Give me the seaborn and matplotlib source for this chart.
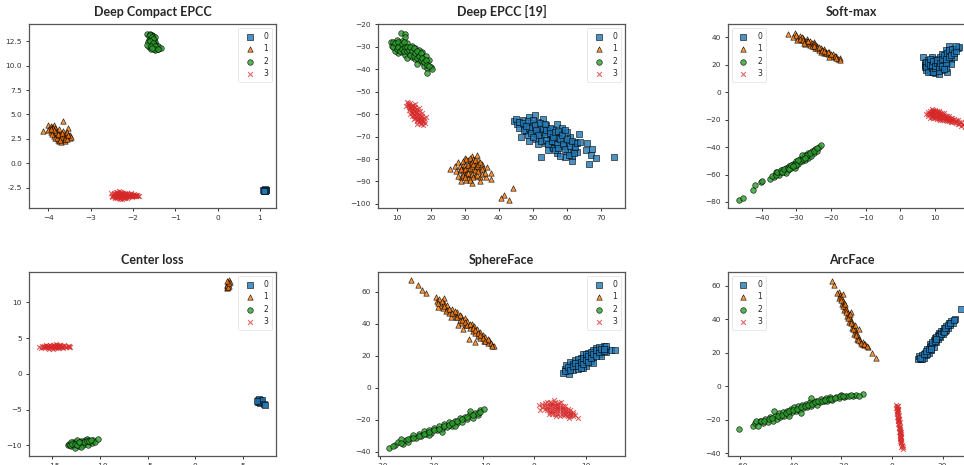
import matplotlib
matplotlib.use('Agg')
import pandas as pd
import seaborn as sns
import matplotlib.pyplot as plt

# ---- data (t-SNE style embeddings, 4 classes per panel) ----
titles = ['Deep Compact EPCC', 'Deep EPCC [19]', 'Soft-max', 'Center loss', 'SphereFace', 'ArcFace']
class_labels = ['0', '1', '2', '3']

# Deep Compact EPCC
ecc_0 = [(1.10, -2.72), (1.12, -2.78), (1.14, -2.70), (1.09, -2.80), (1.13, -2.84), (1.11, -2.66),
         (1.15, -2.76), (1.08, -2.74), (1.12, -2.88), (1.10, -2.82)]
ecc_1 = [(-4.12, 3.30), (-3.66, 4.35), (-3.53, 3.62), (-4.00, 3.95), (-3.95, 3.85), (-3.92, 3.70),
         (-3.98, 3.55), (-3.88, 3.90), (-3.85, 3.60), (-3.90, 3.40), (-3.95, 3.20), (-3.86, 3.10),
         (-3.80, 3.35), (-3.82, 2.95), (-3.88, 2.75), (-3.84, 2.55), (-3.78, 2.40), (-3.75, 2.30),
         (-3.70, 2.50), (-3.72, 2.75), (-3.68, 2.95), (-3.74, 3.15), (-3.65, 3.30), (-3.62, 3.05),
         (-3.60, 2.80), (-3.58, 2.60), (-3.64, 2.40), (-3.56, 2.95), (-3.52, 2.75), (-3.50, 2.55),
         (-3.48, 2.85), (-3.55, 3.20), (-3.70, 2.20), (-3.60, 2.25), (-3.80, 2.60), (-3.92, 3.05),
         (-4.02, 3.45), (-3.76, 3.50), (-3.66, 2.65), (-3.46, 2.70),
         (-3.90, 3.60), (-3.82, 3.25), (-3.76, 2.85), (-3.70, 2.65), (-3.62, 2.50), (-3.56, 2.45),
         (-3.53, 2.85), (-3.78, 3.05), (-3.86, 3.45), (-3.68, 3.10), (-3.72, 2.35), (-3.94, 3.50)]
ecc_2 = [(-1.68, 13.20), (-1.60, 13.25), (-1.55, 13.15), (-1.63, 13.05), (-1.52, 13.00), (-1.58, 12.85),
         (-1.50, 12.75), (-1.62, 12.65), (-1.55, 12.55), (-1.48, 12.45), (-1.57, 12.35), (-1.60, 12.20),
         (-1.50, 12.25), (-1.45, 12.10), (-1.55, 12.05), (-1.62, 11.95), (-1.52, 11.85), (-1.44, 11.90),
         (-1.38, 11.85), (-1.58, 11.70), (-1.48, 11.65), (-1.40, 11.75), (-1.65, 12.40), (-1.47, 12.90),
         (-1.53, 12.15), (-1.42, 12.00), (-1.35, 11.80), (-1.66, 12.10),
         (-1.60, 13.10), (-1.56, 12.95), (-1.54, 12.70), (-1.60, 12.50), (-1.52, 12.35), (-1.58, 12.00),
         (-1.48, 12.00), (-1.50, 11.75), (-1.42, 11.70), (-1.56, 11.80)]
ecc_3 = [(-2.52, -3.05), (-2.48, -3.20), (-2.45, -3.35), (-2.44, -3.10), (-2.40, -2.95), (-2.40, -3.25),
         (-2.38, -3.45), (-2.36, -3.05), (-2.35, -3.30), (-2.33, -3.15), (-2.32, -3.55), (-2.30, -2.90),
         (-2.30, -3.40), (-2.28, -3.20), (-2.27, -3.05), (-2.25, -3.35), (-2.24, -3.50), (-2.22, -3.15),
         (-2.20, -3.00), (-2.20, -3.30), (-2.18, -3.45), (-2.16, -3.20), (-2.14, -3.10), (-2.12, -3.35),
         (-2.10, -3.25), (-2.08, -3.40), (-2.06, -3.15), (-2.04, -3.30), (-2.02, -3.45), (-2.00, -3.20),
         (-1.98, -3.35), (-1.96, -3.25), (-1.94, -3.40), (-1.92, -3.30), (-1.90, -3.20), (-1.88, -3.38),
         (-2.42, -3.60), (-2.26, -3.62), (-2.34, -2.85), (-2.50, -3.30), (-2.15, -3.55), (-2.05, -3.05),
         (-2.37, -3.18), (-2.29, -3.28), (-2.21, -3.22),
         (-2.46, -3.00), (-2.43, -3.42), (-2.41, -3.15), (-2.39, -3.35), (-2.37, -2.98), (-2.35, -3.50),
         (-2.33, -3.25), (-2.31, -3.10), (-2.29, -3.45), (-2.28, -2.95), (-2.26, -3.18), (-2.25, -3.05),
         (-2.23, -3.40), (-2.21, -3.55), (-2.19, -3.12), (-2.17, -3.38), (-2.15, -3.02), (-2.13, -3.25),
         (-2.11, -3.48), (-2.09, -3.12), (-2.07, -3.30), (-2.03, -3.20), (-2.01, -3.38), (-1.97, -3.15),
         (-1.93, -3.22), (-1.86, -3.30), (-2.49, -3.45), (-2.31, -3.62), (-2.19, -3.60), (-2.39, -3.52)]

# Deep EPCC [19]
epcc_0 = [(44.5, -63.0), (45.5, -64.5), (46.0, -66.0), (47.0, -62.5), (47.5, -65.0), (48.0, -67.5),
          (48.5, -69.5), (49.0, -61.5), (49.5, -64.0), (50.0, -66.5), (50.5, -60.5), (50.5, -68.5),
          (51.0, -71.0), (51.5, -63.5), (52.0, -66.0), (52.5, -70.0), (52.5, -79.0), (53.0, -68.0),
          (53.5, -73.0), (54.0, -65.0), (54.5, -67.5), (55.0, -71.0), (55.5, -74.5), (55.5, -69.5),
          (56.0, -66.5), (56.5, -72.5), (57.0, -77.5), (57.5, -70.5), (58.0, -68.0), (58.5, -74.0),
          (59.0, -71.5), (59.5, -79.0), (60.0, -76.5), (60.5, -73.0), (61.0, -70.0), (61.5, -81.0),
          (62.0, -75.5), (62.5, -72.5), (63.5, -69.0), (63.0, -77.0), (66.0, -73.0), (65.5, -76.0),
          (66.5, -82.0), (67.0, -78.0), (67.5, -75.5), (68.5, -79.5), (74.0, -79.0), (54.5, -76.0),
          (57.0, -64.5), (49.0, -72.0), (46.5, -70.0), (60.0, -68.0), (53.0, -62.0), (58.5, -66.0),
          (61.5, -78.5), (56.0, -75.0), (51.5, -73.5),
          (45.0, -62.0), (46.0, -63.5), (47.0, -64.0), (47.5, -67.0), (48.5, -63.0), (49.0, -66.0),
          (49.5, -68.5), (50.0, -62.5), (50.5, -65.0), (51.0, -67.0), (51.5, -69.5), (52.0, -64.0),
          (52.5, -72.0), (53.0, -66.5), (53.5, -69.0), (54.0, -71.5), (54.0, -67.0), (54.5, -73.5),
          (55.0, -66.0), (55.0, -68.5), (55.5, -72.0), (56.0, -70.0), (56.5, -68.0), (56.5, -76.0),
          (57.0, -73.5), (57.5, -67.5), (57.5, -75.0), (58.0, -71.0), (58.0, -78.5), (58.5, -69.5),
          (59.0, -73.5), (59.5, -67.0), (59.5, -75.5), (60.0, -71.0), (60.5, -78.0), (61.0, -74.0),
          (61.5, -72.0), (62.0, -77.5), (62.5, -74.5), (63.0, -73.0), (64.0, -72.5), (48.0, -65.5),
          (50.0, -70.0), (53.5, -64.5)]
epcc_1 = [(25.7, -84.5), (27.0, -83.0), (28.0, -81.5), (28.5, -85.0), (29.0, -88.0), (29.5, -82.5),
          (30.0, -79.5), (30.0, -86.0), (30.5, -84.0), (31.0, -80.5), (31.0, -88.5), (31.5, -82.0),
          (31.5, -86.5), (32.0, -78.5), (32.5, -84.5), (32.5, -80.0), (33.0, -87.5), (33.0, -82.5),
          (33.5, -85.0), (34.0, -80.5), (34.0, -83.5), (34.5, -88.0), (34.5, -90.0), (35.0, -82.0),
          (35.0, -86.5), (35.5, -84.0), (36.2, -88.2), (37.6, -86.0), (37.8, -88.8), (29.0, -90.0),
          (28.0, -87.5), (30.5, -89.5), (32.0, -90.5), (33.5, -78.0), (31.0, -84.0), (29.5, -85.5),
          (36.5, -83.5), (27.5, -85.5), (44.1, -93.0), (41.4, -96.0), (40.7, -97.5), (43.1, -98.2),
          (28.5, -83.0), (29.0, -84.5), (29.5, -81.0), (29.5, -87.0), (30.0, -82.5), (30.0, -84.5),
          (30.5, -80.0), (30.5, -86.5), (31.0, -82.5), (31.0, -86.0), (31.5, -79.5), (31.5, -84.0),
          (32.0, -81.5), (32.0, -83.0), (32.0, -86.5), (32.5, -82.0), (32.5, -88.0), (33.0, -80.5),
          (33.0, -85.0), (33.5, -83.0), (33.5, -87.0), (34.0, -82.0), (34.0, -85.5), (34.5, -81.5),
          (35.0, -84.5), (36.0, -86.0), (30.0, -88.0), (31.5, -89.5)]
epcc_2 = [(11.2, -24.0), (12.5, -24.5), (12.4, -25.5), (8.2, -27.8), (8.5, -29.5), (9.0, -28.0),
          (9.5, -30.5), (10.0, -27.0), (10.0, -29.0), (10.5, -31.5), (11.0, -28.5), (11.0, -30.5),
          (11.5, -27.5), (11.5, -32.5), (12.0, -29.5), (12.5, -31.0), (12.5, -33.5), (13.0, -28.5),
          (13.5, -30.5), (13.5, -33.0), (14.0, -31.5), (14.5, -29.5), (14.5, -34.5), (15.0, -32.0),
          (15.5, -30.5), (15.5, -35.5), (16.0, -33.5), (16.5, -31.5), (16.5, -36.0), (17.0, -34.5),
          (17.5, -32.5), (17.5, -37.0), (18.0, -35.5), (18.0, -38.5), (18.5, -34.0), (19.0, -37.0),
          (19.0, -39.5), (19.5, -36.0), (20.0, -39.0), (20.5, -40.0), (18.8, -41.8), (10.5, -33.0),
          (13.0, -35.0), (9.5, -32.0), (16.0, -37.5),
          (9.0, -30.0), (9.5, -28.5), (10.0, -31.0), (10.5, -28.0), (10.5, -30.0), (11.0, -32.0),
          (11.5, -29.0), (11.5, -31.0), (12.0, -28.0), (12.0, -32.0), (12.5, -30.0), (13.0, -32.0),
          (13.0, -30.0), (13.5, -31.5), (14.0, -30.0), (14.0, -33.5), (14.5, -32.0), (15.0, -30.5),
          (15.0, -34.0), (15.5, -33.0), (16.0, -32.0), (16.0, -35.0), (16.5, -34.0), (17.0, -33.0),
          (17.0, -36.0), (17.5, -35.0), (18.0, -37.0), (18.5, -36.0), (19.0, -38.0), (19.5, -38.5)]
epcc_3 = [(13.0, -54.5), (13.5, -56.0), (14.0, -55.0), (13.8, -57.5), (14.5, -56.5), (14.2, -58.5),
          (15.0, -57.0), (14.8, -59.5), (15.5, -58.0), (15.2, -60.5), (16.0, -59.0), (15.8, -61.0),
          (16.5, -60.0), (16.2, -62.0), (17.0, -61.0), (16.8, -63.0), (17.5, -62.0), (17.2, -64.0),
          (18.0, -63.0), (15.5, -55.5), (16.5, -57.5), (17.5, -59.5), (14.0, -60.0), (18.5, -61.5),
          (13.5, -58.0), (15.0, -62.0), (16.0, -64.5), (17.8, -65.0), (12.8, -56.5), (16.8, -58.5),
          (14.6, -57.8), (15.6, -59.6), (16.4, -61.2), (17.4, -60.8), (15.4, -56.8), (14.4, -61.0),
          (17.0, -62.8), (15.9, -63.2), (18.3, -64.0), (13.4, -55.2),
          (13.2, -55.8), (13.7, -56.8), (14.3, -56.2), (14.0, -57.2), (14.8, -58.2), (14.5, -59.4),
          (15.2, -58.8), (15.0, -60.8), (15.8, -59.0), (15.5, -61.6), (16.2, -60.4), (16.0, -62.6),
          (16.6, -61.6), (16.5, -63.6), (17.2, -62.4), (17.6, -63.4), (18.0, -61.8), (17.0, -64.6),
          (14.8, -56.0), (15.9, -57.8)]

# Soft-max
soft_0 = [(6.5, 26.0), (7.0, 21.0), (7.0, 18.5), (7.5, 16.5), (8.0, 23.5), (8.0, 20.0), (8.5, 15.5),
          (8.5, 18.0), (9.0, 22.0), (9.0, 14.5), (9.5, 19.5), (9.5, 16.5), (10.0, 24.0), (10.0, 21.0),
          (10.0, 14.0), (10.5, 18.0), (10.5, 15.5), (11.0, 22.5), (11.0, 19.5), (11.5, 25.5),
          (11.5, 17.0), (12.0, 21.0), (12.0, 28.0), (12.5, 23.5), (12.5, 19.0), (13.0, 30.5),
          (13.0, 26.0), (13.5, 22.0), (13.5, 14.5), (14.0, 27.5), (14.0, 33.5), (14.5, 24.5),
          (15.0, 29.5), (15.5, 26.0), (15.5, 31.5), (16.5, 32.0), (17.0, 33.0), (12.0, 16.0),
          (9.0, 25.5), (11.0, 13.5), (14.5, 20.5), (13.0, 17.5),
          (7.0, 19.5), (7.5, 22.0), (7.5, 18.0), (8.0, 15.0), (8.0, 21.5), (8.5, 19.5), (8.5, 24.0),
          (9.0, 17.5), (9.0, 20.0), (9.5, 15.0), (9.5, 22.5), (10.0, 17.5), (10.0, 19.0), (10.5, 21.0),
          (10.5, 23.5), (11.0, 15.5), (11.0, 18.0), (11.5, 21.5), (12.0, 19.0), (12.0, 24.0),
          (12.5, 17.0), (12.5, 27.0), (13.0, 21.5), (13.0, 24.5), (13.5, 28.5), (14.0, 25.5),
          (14.0, 30.5), (14.5, 27.0), (15.0, 31.5), (15.5, 28.5), (16.0, 30.0), (16.0, 34.0)]
soft_1 = [(-32.4, 42.5), (-30.5, 43.5), (-31.0, 40.5), (-29.5, 39.5), (-29.0, 41.0), (-28.5, 38.0),
          (-28.0, 39.5), (-27.5, 37.0), (-27.0, 38.5), (-26.5, 36.0), (-26.0, 34.5), (-26.0, 37.5),
          (-25.5, 35.5), (-25.0, 33.5), (-24.5, 35.0), (-24.5, 32.0), (-24.0, 33.5), (-23.5, 31.0),
          (-23.0, 32.5), (-22.5, 30.0), (-22.0, 31.5), (-22.0, 28.5), (-21.5, 29.5), (-21.0, 27.5),
          (-20.5, 29.0), (-20.0, 26.5), (-19.5, 27.5), (-19.0, 25.5), (-18.5, 26.5), (-18.0, 24.0),
          (-17.5, 25.0), (-17.3, 23.5), (-27.5, 35.0), (-23.0, 29.5), (-29.8, 38.0), (-25.0, 36.5),
          (-20.5, 26.0), (-28.5, 40.5),
          (-30.0, 41.5), (-29.0, 39.0), (-28.0, 38.0), (-27.0, 37.0), (-26.5, 37.5), (-25.5, 34.0),
          (-25.0, 35.0), (-24.0, 32.5), (-23.5, 33.0), (-22.5, 31.0), (-21.5, 28.5), (-21.0, 29.5),
          (-20.0, 27.5), (-19.0, 26.5), (-18.5, 25.0), (-27.8, 36.2), (-24.8, 34.0), (-22.0, 30.0)]
soft_2 = [(-46.5, -78.5), (-45.3, -76.8), (-42.5, -71.0), (-42.0, -67.5), (-40.3, -65.5), (-39.8, -64.8),
          (-37.5, -63.0), (-36.5, -61.5), (-35.8, -59.5), (-35.0, -60.5), (-34.5, -58.0), (-34.0, -56.5),
          (-33.5, -58.5), (-33.0, -55.0), (-32.5, -56.5), (-32.0, -53.5), (-31.5, -55.5), (-31.0, -52.0),
          (-30.5, -53.5), (-30.0, -50.5), (-29.5, -52.0), (-29.0, -49.0), (-28.5, -50.5), (-28.0, -47.5),
          (-27.5, -49.5), (-27.5, -45.5), (-27.0, -47.0), (-26.5, -44.0), (-26.5, -48.0), (-26.0, -45.5),
          (-25.5, -42.5), (-25.0, -44.5), (-24.5, -41.5), (-24.0, -43.0), (-23.5, -40.0), (-22.8, -38.5),
          (-33.0, -59.0), (-30.5, -55.0), (-28.5, -46.0), (-36.0, -58.0), (-25.8, -46.8),
          (-37.0, -61.0), (-36.0, -60.0), (-35.5, -58.5), (-34.5, -57.0), (-34.0, -58.5), (-33.5, -56.0),
          (-32.5, -55.0), (-32.0, -56.0), (-31.5, -53.0), (-30.5, -52.0), (-30.0, -53.0), (-29.0, -50.5),
          (-28.0, -49.0), (-27.0, -46.0), (-26.0, -44.0), (-25.0, -43.0), (-24.0, -41.0), (-29.5, -49.5),
          (-31.0, -54.0), (-27.5, -48.0)]
soft_3 = [(7.5, -16.0), (8.0, -14.5), (8.0, -17.5), (8.5, -13.5), (8.5, -16.0), (8.5, -18.5), (9.0, -12.5),
          (9.0, -15.0), (9.0, -17.0), (9.5, -14.0), (9.5, -16.5), (9.5, -19.0), (10.0, -13.0), (10.0, -15.5),
          (10.0, -18.0), (10.5, -14.5), (10.5, -17.0), (10.5, -19.5), (11.0, -13.5), (11.0, -16.0),
          (11.0, -18.5), (11.5, -15.0), (11.5, -17.5), (11.5, -20.0), (12.0, -16.5), (12.0, -19.0),
          (12.5, -15.5), (12.5, -18.0), (12.5, -20.5), (13.0, -17.0), (13.0, -19.5), (13.5, -18.5),
          (13.5, -21.0), (14.0, -17.5), (14.0, -20.0), (14.5, -19.0), (14.5, -21.5), (15.0, -20.5),
          (15.5, -19.5), (15.5, -22.0), (16.0, -21.0), (16.5, -20.5), (16.5, -23.0), (17.0, -22.0),
          (17.5, -21.5), (17.5, -24.5), (18.0, -23.0), (18.5, -25.5), (18.5, -22.5), (19.0, -24.0),
          (19.5, -26.5), (20.0, -25.0), (20.5, -27.0),
          (8.0, -16.0), (8.5, -15.0), (9.0, -14.0), (9.0, -16.0), (9.0, -18.0), (9.5, -13.0), (9.5, -15.5),
          (9.5, -17.5), (10.0, -14.0), (10.0, -16.5), (10.0, -19.0), (10.5, -13.5), (10.5, -15.5),
          (10.5, -18.0), (11.0, -14.5), (11.0, -17.0), (11.0, -19.5), (11.5, -16.0), (11.5, -18.5),
          (12.0, -15.0), (12.0, -17.5), (12.0, -20.0), (12.5, -16.5), (12.5, -19.0), (13.0, -18.0),
          (13.0, -20.5), (13.5, -17.5), (13.5, -19.5), (14.0, -19.0), (14.0, -21.0), (14.5, -20.0),
          (15.0, -19.0), (15.0, -21.5), (16.0, -20.0), (16.0, -22.5), (17.0, -23.0), (18.0, -24.0),
          (19.0, -25.0), (19.5, -24.5), (20.0, -26.5)]

# Center loss
center_0 = [(6.6, -3.7), (6.7, -3.9), (6.8, -3.6), (6.9, -3.8), (6.6, -4.0), (6.8, -4.1), (6.7, -3.5),
            (6.9, -4.0), (7.0, -3.7), (7.2, -4.2), (7.3, -4.4), (6.5, -3.8)]
center_1 = [(3.3, 12.0), (3.4, 12.4), (3.5, 12.8), (3.6, 13.1), (3.4, 12.2), (3.5, 12.6), (3.7, 12.9),
            (3.6, 12.3), (3.3, 12.5), (3.5, 12.1), (3.6, 12.7), (3.4, 13.0)]
center_2 = [(-13.4, -10.0), (-13.2, -9.8), (-13.0, -10.1), (-12.8, -9.6), (-12.7, -10.0), (-12.6, -10.4),
            (-12.5, -9.5), (-12.3, -9.8), (-12.2, -10.1), (-12.0, -9.4), (-11.9, -9.7), (-11.8, -10.0),
            (-11.6, -9.3), (-11.5, -9.6), (-11.3, -9.9), (-11.2, -9.2), (-11.0, -9.5), (-10.8, -9.7),
            (-10.7, -9.3), (-10.5, -9.5), (-10.2, -9.1), (-12.4, -9.2), (-11.4, -9.1), (-13.0, -9.5),
            (-12.0, -10.2),
            (-13.1, -9.9), (-12.9, -9.8), (-12.6, -9.8), (-12.4, -9.9), (-12.1, -9.6), (-11.7, -9.6),
            (-11.4, -9.4), (-11.1, -9.4), (-10.9, -9.2), (-12.2, -9.5)]
center_3 = [(-16.4, 3.75), (-16.0, 3.8), (-15.8, 3.7), (-15.6, 3.95), (-15.5, 3.6), (-15.4, 3.85),
            (-15.2, 4.05), (-15.1, 3.7), (-15.0, 3.9), (-14.9, 3.55), (-14.8, 4.1), (-14.7, 3.8),
            (-14.6, 3.65), (-14.5, 4.0), (-14.4, 3.75), (-14.3, 3.9), (-14.2, 4.05), (-14.1, 3.7),
            (-14.0, 3.85), (-13.8, 4.0), (-13.6, 3.8), (-13.4, 3.95), (-13.2, 3.85), (-13.1, 3.75),
            (-15.9, 3.9), (-15.3, 3.5), (-14.6, 4.15), (-13.9, 3.65), (-16.2, 3.65), (-15.7, 4.05),
            (-16.1, 3.85), (-15.85, 3.78), (-15.65, 3.72), (-15.45, 3.92), (-15.25, 3.78), (-15.05, 3.62),
            (-14.95, 3.98), (-14.85, 3.72), (-14.75, 3.92), (-14.55, 3.85), (-14.45, 3.62), (-14.35, 4.08),
            (-14.25, 3.8), (-14.15, 3.95), (-13.95, 3.78), (-13.75, 3.9), (-13.55, 3.72), (-13.3, 3.82),
            (-15.55, 3.85), (-14.65, 3.72)]

# SphereFace
sphere_0 = [(5.5, 9.5), (6.0, 12.0), (6.2, 14.5), (6.5, 10.5), (7.0, 13.0), (7.0, 16.5), (7.5, 11.5),
            (7.5, 15.0), (8.0, 17.5), (8.0, 13.5), (8.5, 12.0), (8.5, 16.0), (9.0, 19.0), (9.0, 14.5),
            (9.5, 17.5), (9.5, 21.0), (10.0, 15.5), (10.0, 19.5), (10.5, 18.0), (10.5, 22.0), (11.0, 20.5),
            (11.0, 17.0), (11.5, 23.5), (11.5, 19.5), (12.0, 22.0), (12.0, 25.0), (12.5, 21.0), (12.5, 24.0),
            (13.0, 23.0), (13.5, 26.0), (13.0, 20.0), (14.0, 24.5), (14.0, 22.5), (15.0, 24.0), (15.7, 24.0),
            (8.5, 18.0), (10.0, 13.5), (11.5, 15.5), (6.8, 8.8), (9.5, 12.5),
            (6.0, 10.5), (6.5, 13.0), (7.0, 11.0), (7.5, 13.5), (8.0, 15.5), (8.5, 14.0), (9.0, 16.5),
            (9.0, 12.5), (9.5, 15.0), (9.5, 19.0), (10.0, 17.5), (10.0, 21.5), (10.5, 16.0), (10.5, 20.0),
            (11.0, 18.5), (11.0, 22.5), (11.5, 21.0), (12.0, 20.0), (12.0, 23.5), (12.5, 22.5), (12.5, 25.5),
            (13.0, 24.5), (13.5, 23.0), (14.0, 26.0), (13.5, 24.5)]
sphere_1 = [(-23.9, 67.2), (-22.7, 64.0), (-21.9, 61.3), (-21.0, 59.2), (-19.2, 56.5), (-19.0, 54.0),
            (-18.5, 55.5), (-18.2, 52.0), (-17.8, 50.0), (-17.5, 53.0), (-17.0, 51.5), (-16.9, 48.5),
            (-16.5, 47.0), (-16.0, 49.5), (-15.5, 46.0), (-15.2, 44.0), (-15.0, 47.5), (-14.5, 42.5),
            (-14.2, 45.0), (-14.0, 40.5), (-13.5, 43.5), (-13.2, 39.0), (-13.0, 41.5), (-12.5, 37.5),
            (-12.2, 40.0), (-12.0, 35.5), (-11.8, 38.5), (-11.5, 34.0), (-11.2, 36.5), (-11.0, 32.5),
            (-10.5, 35.0), (-10.5, 31.0), (-10.0, 33.0), (-9.8, 29.5), (-9.5, 31.5), (-9.0, 28.0),
            (-8.8, 30.0), (-8.3, 27.0), (-7.8, 26.5), (-12.7, 30.5), (-11.6, 28.5), (-17.5, 56.0),
            (-16.2, 44.5), (-14.8, 39.0), (-13.8, 36.5), (-18.8, 50.5),
            (-18.8, 53.0), (-18.0, 54.0), (-17.5, 51.0), (-17.2, 48.0), (-16.5, 49.5), (-16.0, 46.5),
            (-15.5, 48.0), (-15.0, 44.0), (-14.5, 45.5), (-14.0, 42.5), (-13.5, 41.0), (-13.0, 39.0),
            (-12.5, 40.0), (-12.0, 37.5), (-11.5, 36.0), (-11.0, 34.5), (-10.5, 33.0), (-10.0, 31.0),
            (-9.5, 29.5), (-9.0, 30.5), (-8.5, 28.0), (-8.2, 26.0)]
sphere_2 = [(-28.2, -37.8), (-27.0, -35.5), (-26.5, -34.0), (-25.5, -35.0), (-25.0, -32.5), (-24.0, -31.5),
            (-23.5, -29.5), (-23.0, -31.0), (-22.5, -28.5), (-22.0, -30.0), (-21.5, -27.0), (-21.0, -29.0),
            (-20.5, -26.5), (-20.0, -28.0), (-19.5, -25.0), (-19.0, -26.5), (-18.5, -24.0), (-18.0, -25.5),
            (-17.5, -22.5), (-17.0, -24.5), (-16.5, -21.5), (-16.0, -23.5), (-15.5, -20.5), (-15.0, -22.0),
            (-14.5, -19.0), (-14.0, -21.0), (-13.5, -18.0), (-13.0, -19.5), (-12.5, -16.5), (-12.0, -18.5),
            (-11.5, -15.5), (-11.0, -17.0), (-10.5, -13.5), (-9.7, -13.0), (-18.0, -27.5), (-15.5, -23.5),
            (-20.5, -29.5), (-12.5, -14.5), (-24.5, -33.5), (-26.0, -32.0),
            (-27.5, -36.0), (-26.0, -34.5), (-24.5, -32.0), (-23.5, -31.0), (-22.5, -30.0), (-21.5, -28.5),
            (-20.5, -27.5), (-19.5, -26.5), (-18.5, -25.5), (-17.5, -24.0), (-16.5, -23.0), (-16.0, -22.0),
            (-15.0, -20.5), (-14.0, -19.5), (-13.0, -18.0), (-12.0, -17.0), (-11.0, -15.5), (-10.5, -15.0)]
sphere_3 = [(1.0, -10.5), (1.5, -12.0), (2.0, -9.5), (2.0, -13.0), (2.5, -11.0), (2.5, -14.0), (3.0, -8.5),
            (3.0, -12.0), (3.0, -15.0), (3.5, -10.0), (3.5, -13.5), (3.5, -16.5), (4.0, -9.0), (4.0, -11.5),
            (4.0, -14.5), (4.5, -12.5), (4.5, -16.0), (4.5, -10.0), (5.0, -11.0), (5.0, -14.0), (5.0, -17.5),
            (5.5, -12.5), (5.5, -15.5), (6.0, -11.5), (6.0, -14.5), (6.0, -17.0), (6.5, -13.0), (6.5, -16.0),
            (7.0, -14.0), (7.0, -17.5), (7.5, -15.0), (7.5, -16.5), (8.6, -19.0), (3.8, -7.8), (5.2, -8.8),
            (2.8, -16.0), (6.8, -18.5), (4.2, -17.8), (1.2, -14.0),
            (1.5, -10.0), (2.0, -11.5), (2.5, -9.0), (2.5, -12.5), (3.0, -10.5), (3.0, -13.5), (3.5, -11.5),
            (3.5, -15.0), (4.0, -10.5), (4.0, -13.0), (4.0, -16.0), (4.5, -11.5), (4.5, -14.0), (5.0, -12.5),
            (5.0, -15.5), (5.5, -11.0), (5.5, -14.0), (5.5, -17.0), (6.0, -13.0), (6.0, -16.0), (6.5, -14.5),
            (6.5, -17.5), (7.0, -15.5), (7.0, -16.5), (7.5, -17.5), (8.0, -17.0), (3.2, -9.2), (4.8, -9.5)]

# ArcFace
arc_0 = [(10.2, 16.5), (10.5, 18.0), (11.5, 16.0), (12.0, 18.5), (12.5, 17.0), (13.0, 20.0), (13.5, 18.5),
         (14.0, 22.0), (14.5, 20.0), (15.0, 23.5), (15.0, 25.5), (15.5, 21.5), (16.0, 25.0), (16.5, 27.5),
         (16.5, 23.5), (17.0, 29.0), (17.5, 26.5), (18.0, 30.5), (18.0, 28.0), (18.5, 32.0), (19.0, 29.5),
         (19.5, 33.0), (20.0, 31.0), (20.5, 34.5), (21.0, 33.0), (21.5, 36.0), (22.0, 35.0), (22.5, 37.5),
         (23.0, 36.5), (23.5, 39.0), (24.0, 38.0), (25.0, 40.0), (27.3, 46.4), (14.0, 19.5), (19.0, 31.5),
         (21.5, 33.5), (12.0, 16.5),
         (11.0, 17.0), (12.5, 19.0), (13.5, 21.0), (14.5, 22.5), (15.5, 24.0), (16.0, 26.5), (17.0, 27.0),
         (17.5, 29.5), (18.5, 30.0), (19.5, 31.5), (20.0, 33.0), (20.5, 32.5), (21.0, 35.0), (22.0, 36.5),
         (23.0, 38.0), (24.5, 39.5), (15.5, 22.5), (17.5, 28.0)]
arc_1 = [(-23.7, 63.0), (-22.8, 60.4), (-21.0, 56.0), (-20.5, 54.5), (-20.8, 52.5), (-20.0, 53.0),
         (-19.5, 51.0), (-19.8, 49.0), (-19.0, 49.5), (-18.5, 47.5), (-18.8, 45.5), (-18.0, 46.0),
         (-17.5, 44.0), (-17.8, 42.0), (-17.0, 42.5), (-16.5, 40.5), (-16.8, 38.5), (-16.0, 39.0),
         (-15.5, 37.0), (-15.8, 35.0), (-15.0, 35.5), (-14.5, 33.5), (-14.8, 31.5), (-14.0, 32.0),
         (-13.5, 30.0), (-13.8, 28.0), (-13.0, 28.5), (-12.5, 27.0), (-12.0, 25.5), (-11.5, 26.5),
         (-11.0, 24.5), (-10.5, 25.0), (-9.5, 23.5), (-8.0, 20.0), (-6.3, 16.8), (-19.5, 55.0),
         (-16.0, 44.5), (-13.0, 34.0),
         (-21.5, 55.5), (-20.2, 51.5), (-19.2, 48.0), (-18.2, 44.5), (-17.2, 41.0), (-16.2, 37.5),
         (-15.2, 34.0), (-14.2, 30.5), (-13.2, 27.5), (-12.2, 26.0), (-11.2, 25.5), (-10.0, 24.0),
         (-18.5, 49.0), (-16.5, 43.0), (-14.5, 36.5)]
arc_2 = [(-60.5, -25.6), (-55.0, -23.5), (-54.0, -22.0), (-53.0, -23.5), (-52.0, -20.5), (-51.0, -22.0),
         (-50.0, -19.5), (-49.0, -21.5), (-48.0, -18.5), (-47.0, -20.5), (-46.0, -17.5), (-45.5, -19.5),
         (-44.5, -16.0), (-44.0, -18.5), (-43.0, -15.5), (-42.5, -17.5), (-41.5, -14.5), (-41.0, -16.5),
         (-40.0, -13.5), (-39.5, -15.5), (-38.5, -12.5), (-38.0, -15.0), (-37.0, -12.0), (-36.5, -14.0),
         (-35.5, -11.0), (-35.0, -13.0), (-34.0, -10.5), (-33.5, -12.5), (-32.5, -9.5), (-32.0, -11.5),
         (-32.0, -7.2), (-31.0, -10.0), (-30.0, -8.5), (-29.5, -11.0), (-28.5, -9.5), (-28.0, -7.5),
         (-27.0, -9.0), (-26.0, -7.0), (-25.5, -8.5), (-24.5, -6.5), (-23.5, -8.0), (-22.0, -6.2),
         (-21.0, -7.0), (-20.0, -5.0), (-19.0, -6.5), (-18.0, -5.5), (-17.0, -6.0), (-15.5, -5.5),
         (-14.0, -5.0), (-11.6, -4.5), (-46.5, -15.0), (-40.5, -18.0), (-36.0, -16.0),
         (-53.5, -21.0), (-51.5, -21.0), (-50.5, -20.5), (-48.5, -19.5), (-47.5, -19.0), (-45.0, -18.0),
         (-43.5, -17.0), (-42.0, -16.0), (-40.5, -15.0), (-39.0, -14.0), (-37.5, -13.5), (-36.0, -12.5),
         (-34.5, -12.0), (-33.0, -11.0), (-31.5, -10.5), (-30.5, -9.5), (-29.0, -9.0), (-27.5, -8.5),
         (-26.5, -8.0), (-25.0, -7.5), (-24.0, -7.5), (-22.5, -7.0), (-20.5, -6.0), (-19.5, -5.5),
         (-16.0, -5.0), (-13.0, -5.5)]
arc_3 = [(1.8, -11.0), (2.2, -12.5), (2.6, -11.5), (1.9, -14.0), (2.4, -15.0), (2.0, -16.5), (2.7, -17.0),
         (2.2, -18.5), (2.8, -19.5), (2.4, -20.5), (3.0, -21.5), (2.6, -22.5), (3.1, -24.0), (2.7, -25.0),
         (3.3, -26.0), (2.9, -27.0), (3.4, -28.5), (3.0, -29.5), (3.6, -30.5), (3.2, -31.5), (3.7, -33.0),
         (3.4, -34.0), (4.0, -35.0), (3.6, -36.5), (4.2, -37.5), (2.5, -13.5), (2.9, -23.0), (3.3, -32.5),
         (1.7, -13.0), (2.3, -19.5), (3.5, -27.5), (4.4, -36.0),
         (2.0, -12.0), (2.3, -13.5), (2.1, -15.5), (2.5, -16.0), (2.4, -17.5), (2.6, -19.0), (2.5, -21.0),
         (2.8, -22.0), (2.8, -24.5), (3.0, -25.5), (3.1, -27.5), (3.2, -29.0), (3.4, -30.0), (3.5, -32.0),
         (3.6, -33.5), (3.8, -35.5), (2.0, -14.8), (2.9, -20.0), (3.0, -28.0), (3.3, -31.0)]

panels = [
    [ecc_0, ecc_1, ecc_2, ecc_3],
    [epcc_0, epcc_1, epcc_2, epcc_3],
    [soft_0, soft_1, soft_2, soft_3],
    [center_0, center_1, center_2, center_3],
    [sphere_0, sphere_1, sphere_2, sphere_3],
    [arc_0, arc_1, arc_2, arc_3],
]

# ---- styling / layout ----
sns.set_style("ticks")
plt.rcParams['font.family'] = ['DejaVu Sans']
plt.rcParams['xtick.labelsize'] = 5.3
plt.rcParams['ytick.labelsize'] = 5.3
plt.rcParams['xtick.major.size'] = 2.5
plt.rcParams['ytick.major.size'] = 2.5
plt.rcParams['xtick.major.pad'] = 2.5
plt.rcParams['ytick.major.pad'] = 2.5

colors = ['#1f77b4', '#ff7f0e', '#2ca02c', '#d62728']
markers = ['s', '^', 'o', 'x']
sizes = [14, 15, 16, 12]

W, H = 964, 465
col_left = [29, 378, 728]
row_top = [24, 272]
ax_w, ax_h = 247, 184

xlims = [(-4.46, 1.38), (4.5, 77.1), (-49.7, 21.5), (-17.45, 8.5), (-30.4, 17.65), (-64.7, 32.8)]
ylims = [(-4.58, 14.27), (-101.8, -19.9), (-84.4, 49.7), (-11.5, 14.27), (-42.5, 72.4), (-41.6, 68.2)]
xticks = [[-4, -3, -2, -1, 0, 1], [10, 20, 30, 40, 50, 60, 70], [-40, -30, -20, -10, 0, 10],
          [-15, -10, -5, 0, 5], [-30, -20, -10, 0, 10], [-60, -40, -20, 0, 20]]
yticks = [[-2.5, 0.0, 2.5, 5.0, 7.5, 10.0, 12.5], [-100, -90, -80, -70, -60, -50, -40, -30, -20],
          [-80, -60, -40, -20, 0, 20, 40], [-10, -5, 0, 5, 10], [-40, -20, 0, 20, 40, 60],
          [-40, -20, 0, 20, 40, 60]]
legend_loc = ['upper right', 'upper right', 'upper left', 'upper right', 'upper right', 'upper left']

fig = plt.figure(figsize=(W / 100, H / 100), dpi=100)

for i, (title, groups) in enumerate(zip(titles, panels)):
    r, c = divmod(i, 3)
    rect = [col_left[c] / W, 1 - (row_top[r] + ax_h) / H, ax_w / W, ax_h / H]
    ax = fig.add_axes(rect)
    for k, pts in enumerate(groups):
        df = pd.DataFrame(pts, columns=['x', 'y'])
        if markers[k] == 'x':
            sns.scatterplot(data=df, x='x', y='y', ax=ax, marker='x', color=colors[k],
                            s=sizes[k], linewidth=0.8, alpha=0.7, label=class_labels[k])
        else:
            sns.scatterplot(data=df, x='x', y='y', ax=ax, marker=markers[k], color=colors[k],
                            s=sizes[k], edgecolor='black', linewidth=0.5, alpha=0.8,
                            label=class_labels[k])
    ax.set_xlim(*xlims[i])
    ax.set_ylim(*ylims[i])
    ax.set_xticks(xticks[i])
    ax.set_yticks(yticks[i])
    if i == 0:
        ax.set_yticklabels([f'{v:.1f}' for v in yticks[i]])
    ax.set_xlabel('')
    ax.set_ylabel('')
    for sp in ax.spines.values():
        sp.set_color('#555555')
        sp.set_linewidth(0.9)
    ax.tick_params(colors='#333333', width=0.7)
    ax.set_title(title, fontsize=9, fontweight='bold', family=['Lato', 'DejaVu Sans'], pad=6)
    leg = ax.legend(loc=legend_loc[i], fontsize=5.5, frameon=True, borderpad=0.5,
                    handletextpad=0.8, labelspacing=0.45)
    leg.get_frame().set_edgecolor('#dddddd')
    leg.get_frame().set_linewidth(0.6)

fig.savefig('out.png', dpi=100)
